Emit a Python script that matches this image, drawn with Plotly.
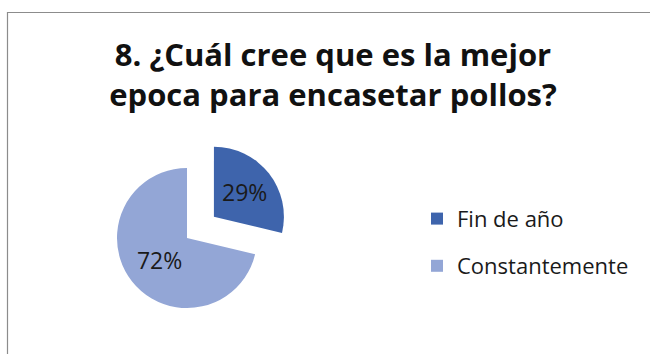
import plotly.graph_objects as go

# Survey answers: best season to house chickens
categories = ["Fin de año", "Constantemente"]
values = [29, 72]
slice_labels = ["29%", "72%"]
colors = ["#3E64AC", "#93A6D6"]

title_text = "8. ¿Cuál cree que es la mejor<br>epoca para encasetar pollos?"

W, H = 650, 354

# legend entries keep a tall line box but draw the text at a normal size
legend_names = [
    f"<span style='font-size:22px;baseline-shift:5px'>{c}</span>" for c in categories
]

fig = go.Figure(
    go.Pie(
        labels=legend_names,
        values=values,
        text=slice_labels,
        textinfo="text",
        textposition="inside",
        insidetextorientation="horizontal",
        textfont=dict(family="Open Sans", size=23, color="#1a1a1a"),
        marker=dict(colors=colors, line=dict(width=0)),
        sort=False,
        direction="clockwise",
        rotation=0,
        pull=[0.49, 0],
        hoverinfo="label+percent",
        domain=dict(x=[82.7 / W, 291.3 / W], y=[11.7 / H, 220.3 / H]),
    )
)

fig.update_layout(
    width=W,
    height=H,
    margin=dict(l=0, r=0, t=0, b=0),
    paper_bgcolor="white",
    plot_bgcolor="white",
    title=dict(
        text=title_text,
        x=333 / W,
        xanchor="center",
        xref="paper",
        y=1 - 66 / H,
        yanchor="top",
        yref="paper",
        font=dict(family="Open Sans", size=31, color="#111111", weight=700),
    ),
    legend=dict(
        x=417 / W,
        xanchor="left",
        y=1 - 190 / H,
        yanchor="top",
        font=dict(family="Open Sans", size=34, color="#1a1a1a"),
        bgcolor="rgba(0,0,0,0)",
        borderwidth=0,
    ),
    shapes=[
        dict(
            type="rect",
            xref="paper",
            yref="paper",
            x0=7.5 / W,
            x1=1.05,
            y0=-0.05,
            y1=1 - 12.5 / H,
            line=dict(color="#8c8c8c", width=1.2),
            fillcolor="rgba(0,0,0,0)",
            layer="below",
        )
    ],
)

fig.write_html("out.html")
